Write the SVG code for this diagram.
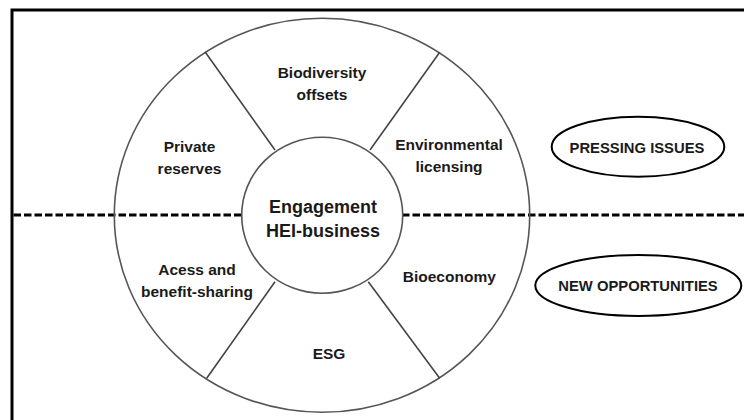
<svg xmlns="http://www.w3.org/2000/svg" width="744" height="420" viewBox="0 0 744 420">
  <style>
    .frame { fill: none; stroke: #000; stroke-width: 3; }
    .split { fill: none; stroke: #000; stroke-width: 3; stroke-dasharray: 7.5 3; }
    .ring { fill: none; stroke: #555; stroke-width: 1.6; }
    .hub { fill: #fff; stroke: #555; stroke-width: 1.6; }
    .divider { stroke: #444; stroke-width: 1.6; }
    .tag { fill: #fff; stroke: #000; stroke-width: 2; }
    text { font-family: "Liberation Sans", Arial, sans-serif; font-weight: bold; fill: #1a1a1a; text-anchor: middle; }
    .lbl { font-size: 15.5px; }
    .hubtxt { font-size: 18px; }
    .tagtxt { font-size: 14.8px; }
  </style>
  <rect width="744" height="420" fill="#fff"/>

  <!-- open frame: top and left edges -->
  <path class="frame" d="M744 10 H12 V420"/>

  <!-- horizontal split between the two halves -->
  <line class="split" x1="13.5" y1="215" x2="744" y2="215"/>

  <!-- outer ring -->
  <g id="ring">
    <ellipse class="ring" cx="322" cy="215.3" rx="207.7" ry="197"/>
  </g>

  <!-- sector dividers -->
  <g id="connectors">
    <line class="divider" x1="205" y1="51.7" x2="275" y2="150"/>
    <line class="divider" x1="439.7" y1="52.3" x2="370" y2="150"/>
    <line class="divider" x1="206.7" y1="378.3" x2="275" y2="281.7"/>
    <line class="divider" x1="439.7" y1="378.3" x2="368.3" y2="281.7"/>
  </g>

  <g id="hub">
    <ellipse class="hub" cx="322.2" cy="215.3" rx="80.5" ry="78"/>
    <text class="hubtxt" x="323" y="213">Engagement</text>
    <text class="hubtxt" x="323" y="237">HEI-business</text>
  </g>

  <g id="biodiversity-offsets">
    <text class="lbl" x="322" y="77.5">Biodiversity</text>
    <text class="lbl" x="322" y="99.5">offsets</text>
  </g>

  <g id="private-reserves">
    <text class="lbl" x="189.5" y="151.5">Private</text>
    <text class="lbl" x="189.5" y="173.5">reserves</text>
  </g>

  <g id="environmental-licensing">
    <text class="lbl" x="449" y="150">Environmental</text>
    <text class="lbl" x="449" y="171.5">licensing</text>
  </g>

  <g id="access-benefit-sharing">
    <text class="lbl" x="197" y="275">Acess and</text>
    <text class="lbl" x="197" y="297">benefit-sharing</text>
  </g>

  <g id="bioeconomy">
    <text class="lbl" x="449.3" y="281.5">Bioeconomy</text>
  </g>

  <g id="esg">
    <text class="lbl" x="329" y="358.5">ESG</text>
  </g>

  <g id="pressing-issues">
    <ellipse class="tag" cx="638" cy="146.7" rx="86.3" ry="30"/>
    <text class="tagtxt" x="637" y="152.5">PRESSING ISSUES</text>
  </g>

  <g id="new-opportunities">
    <ellipse class="tag" cx="638.3" cy="285.5" rx="103" ry="30.5"/>
    <text class="tagtxt" x="638" y="291">NEW OPPORTUNITIES</text>
  </g>
</svg>
